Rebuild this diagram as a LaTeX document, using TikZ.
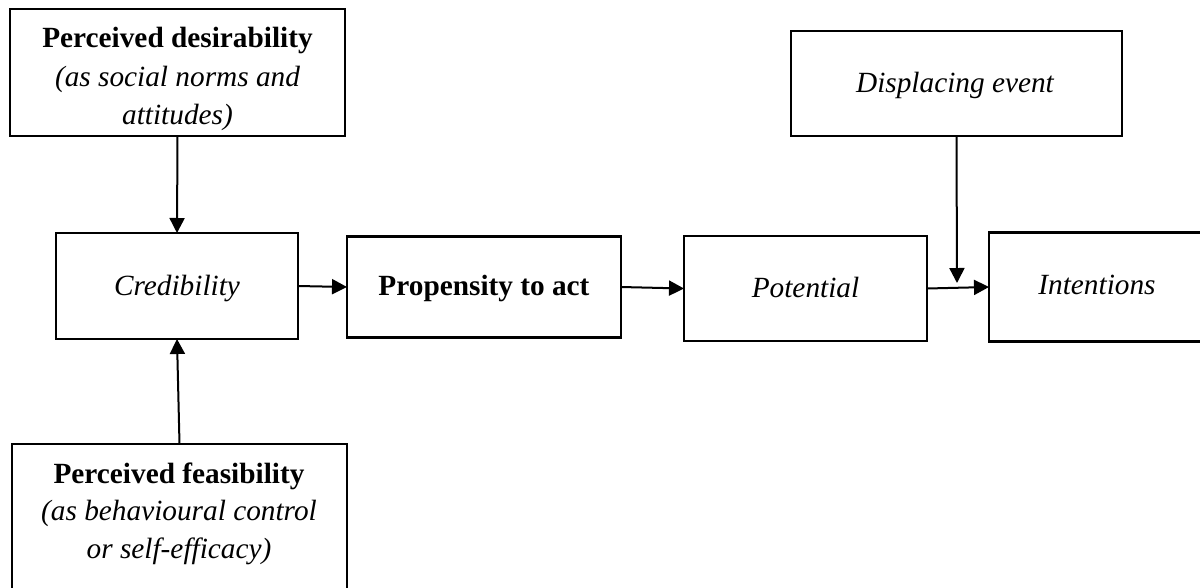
\documentclass[tikz,border=0pt]{standalone}
\usepackage{fontspec}
\setmainfont{Liberation Serif}
\usetikzlibrary{arrows.meta}
\begin{document}
\begin{tikzpicture}[x=1pt,y=-1pt,
  box/.style={draw, line width=2.2pt, inner sep=0pt, outer sep=0pt},
  txt/.style={anchor=base, inner sep=0pt, font=\fontsize{29.3}{35}\selectfont},
  arr/.style={line width=2pt, -{Triangle[length=15pt,width=15pt]}}]
\useasboundingbox (0,0) rectangle (1200,587);
\clip (0,0) rectangle (1200,587);
% boxes
\node[box, minimum width=335pt, minimum height=127pt] (des) at (177.5,72.5) {};
\node[box, minimum width=242pt, minimum height=106pt] (cred) at (177,286) {};
\node[box, minimum width=274pt, minimum height=101pt] (prop) at (484,287) {};
\node[box, minimum width=243pt, minimum height=105pt] (pot) at (805.5,288.5) {};
\node[box, minimum width=218pt, minimum height=109pt] (int) at (1098,287) {};
\node[box, minimum width=331pt, minimum height=105pt] (dis) at (956.5,83.5) {};
\node[box, minimum width=335pt, minimum height=170pt] (fea) at (179.5,529) {};
% texts
\node[txt] (desA) at (177.5,47) {\bfseries Perceived desirability};
\node[txt] (desB) at (177.5,86) {\itshape (as social norms and};
\node[txt] (desC) at (177.5,124) {\itshape attitudes)};
\node[txt] (credT) at (177,295) {\itshape Credibility};
\node[txt] (propT) at (484,295) {\bfseries Propensity to act};
\node[txt] (potT) at (805.5,297) {\itshape Potential};
\node[txt] (intT) at (1097,294) {\itshape Intentions};
\node[txt] (disT) at (955,92) {\itshape Displacing event};
\node[txt] (feaA) at (179,483) {\bfseries Perceived feasibility};
\node[txt] (feaB) at (179,520) {\itshape (as behavioural control};
\node[txt] (feaC) at (179,558) {\itshape or self-efficacy)};
% connectors
\coordinate (dtip) at (957,283);
\draw[arr] (des.south) -- (cred.north);
\draw[arr] (fea.north) -- (cred.south);
\draw[arr] (cred.east) -- (prop.west);
\draw[arr] (prop.east) -- (pot.west);
\draw[arr] (pot.east) -- (int.west);
\draw[arr] (dis.south) -- (dtip);
\end{tikzpicture}
\end{document}
